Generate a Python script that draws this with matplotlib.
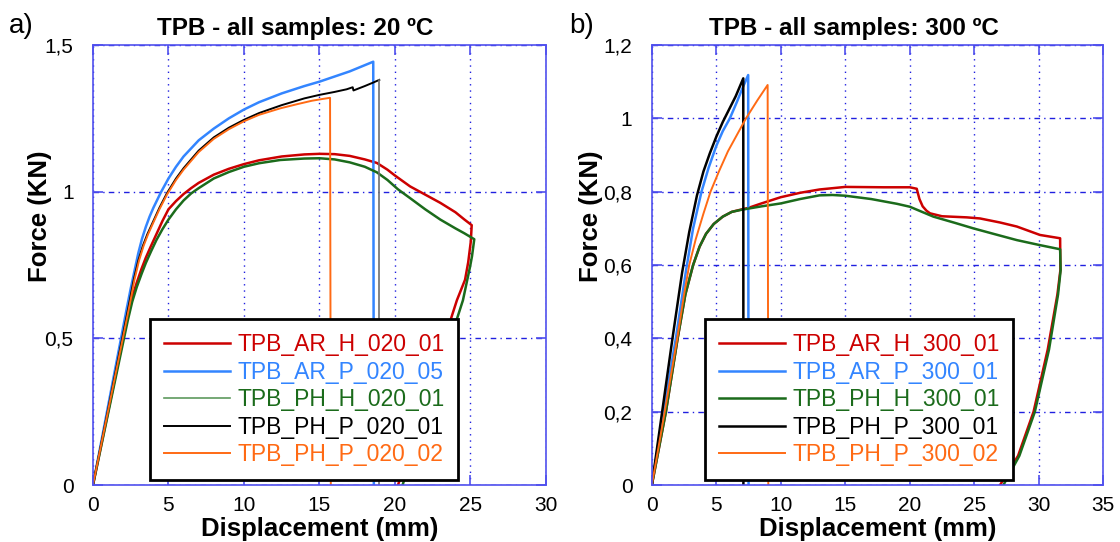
import numpy as np
import matplotlib.pyplot as plt
from matplotlib.ticker import FuncFormatter, MultipleLocator

plt.rcParams['font.family'] = ['Liberation Sans', 'DejaVu Sans']

# Couleurs des essais
c_red = '#cc0000'
c_blue = '#3385ff'
c_green = '#1b6b1b'
c_black = '#000000'
c_orange = '#ff6a14'
c_axes = '#5050ee'
c_grid = '#2020e0'

# ---- 20 ºC ----
labels_20 = ['TPB_AR_H_020_01', 'TPB_AR_P_020_05', 'TPB_PH_H_020_01',
             'TPB_PH_P_020_01', 'TPB_PH_P_020_02']

ar_h_20_x = [0, 2.3, 2.6, 2.9, 3.2, 3.5, 3.8, 4.2, 4.6, 5.0, 5.5, 6.0, 6.5, 7.0, 8.0, 9.0, 10,
             11, 12.5, 14, 15, 16, 17, 18, 18.8, 19.5, 20, 21, 22, 23, 24, 24.6, 25.08,
             25.02, 24.85, 24.64, 24.1, 23.75, 22.0, 20.2]
ar_h_20_y = [0, 0.575, 0.64, 0.69, 0.735, 0.775, 0.81, 0.855, 0.9, 0.94, 0.968, 0.992, 1.012,
             1.03, 1.058, 1.078, 1.094, 1.107, 1.12, 1.127, 1.129, 1.128, 1.122, 1.11, 1.098,
             1.075, 1.055, 1.018, 0.99, 0.962, 0.93, 0.905, 0.886,
             0.83, 0.76, 0.70, 0.63, 0.574, 0.29, 0]

ar_p_20_x = [0, 2.23, 2.5, 2.75, 3.0, 3.25, 3.5, 3.75, 4.0, 4.5, 5.0, 5.5, 6.0, 7.0, 8.0, 9.0,
             10, 11, 12.5, 14, 15, 17, 18.56, 18.6]
ar_p_20_y = [0, 0.60, 0.67, 0.73, 0.79, 0.84, 0.88, 0.915, 0.945, 0.998, 1.045, 1.085, 1.12,
             1.175, 1.215, 1.25, 1.28, 1.305, 1.335, 1.36, 1.375, 1.41, 1.443, 0]

ph_h_20_x = [0, 2.3, 2.6, 2.9, 3.22, 3.5, 3.85, 4.2, 4.6, 5.0, 5.5, 6.0, 6.5, 7.0, 8.0, 9.0,
             10, 11, 12.4, 14, 15, 16, 17, 18, 18.8, 19.5, 20.2, 21, 22, 23, 24, 24.6, 25.25,
             25.1, 24.97, 24.5, 24.15, 22.3, 20.5]
ph_h_20_y = [0, 0.56, 0.625, 0.675, 0.72, 0.757, 0.797, 0.835, 0.872, 0.905, 0.94, 0.97, 0.994,
             1.012, 1.045, 1.067, 1.085, 1.097, 1.108, 1.113, 1.114, 1.11, 1.10, 1.085, 1.066,
             1.04, 1.008, 0.978, 0.94, 0.905, 0.875, 0.858, 0.838,
             0.78, 0.744, 0.63, 0.574, 0.28, 0]

ph_p_20_x = [0, 2.4, 2.7, 3.0, 3.3, 3.6, 4.0, 4.4, 4.9, 5.5, 6.0, 7.0, 8.0, 9.0, 10, 11, 12.5,
             14, 15, 16, 16.8, 17.2, 17.25, 18, 18.56, 18.96, 18.96]
ph_p_20_y = [0, 0.62, 0.70, 0.765, 0.815, 0.855, 0.9, 0.945, 0.995, 1.045, 1.08, 1.14, 1.185,
             1.218, 1.245, 1.268, 1.295, 1.318, 1.33, 1.34, 1.349, 1.356, 1.345, 1.36, 1.372,
             1.381, 0]

ph_p2_20_x = [0, 2.45, 2.75, 3.05, 3.35, 3.65, 4.0, 4.4, 4.9, 5.5, 6.0, 7.0, 8.0, 9.0, 10, 11,
              12.4, 13.5, 14.5, 15.2, 15.7, 15.75]
ph_p2_20_y = [0, 0.62, 0.70, 0.765, 0.815, 0.855, 0.895, 0.94, 0.99, 1.04, 1.075, 1.135, 1.18,
              1.213, 1.24, 1.262, 1.284, 1.298, 1.31, 1.316, 1.32, 0]

# ---- 300 ºC ----
labels_300 = ['TPB_AR_H_300_01', 'TPB_AR_P_300_01', 'TPB_PH_H_300_01',
              'TPB_PH_P_300_01', 'TPB_PH_P_300_02']

ar_h_300_x = [0, 1.09, 2.0, 2.6, 3.2, 3.7, 4.2, 4.8, 5.5, 6.2, 7.0, 7.5, 8.5, 10, 11.5, 13,
              15, 18, 20, 20.54, 20.75, 21.0, 21.3, 21.57, 22.5, 24.42, 25.45, 27, 28.3, 30.1,
              31.66, 31.68, 31.45, 30.7, 29.6, 28.4, 27.0]
ar_h_300_y = [0, 0.2, 0.4, 0.52, 0.6, 0.65, 0.685, 0.712, 0.732, 0.745, 0.752, 0.756, 0.768,
              0.785, 0.797, 0.806, 0.813, 0.812, 0.812, 0.808, 0.78, 0.76, 0.748, 0.741, 0.733,
              0.73, 0.727, 0.716, 0.705, 0.682, 0.673, 0.586, 0.52, 0.37, 0.2, 0.08, 0]

ar_p_300_x = [0, 0.9, 1.86, 2.65, 3.2, 3.85, 4.4, 5.0, 5.5, 6.05, 6.6, 7.0, 7.47, 7.5]
ar_p_300_y = [0, 0.2, 0.4, 0.585, 0.7, 0.8, 0.865, 0.925, 0.965, 1.0, 1.045, 1.08, 1.118, 0]

ph_h_300_x = [0, 1.09, 2.0, 2.6, 3.2, 3.7, 4.2, 4.8, 5.5, 6.2, 7.0, 7.5, 8.5, 10, 11.5, 13,
              14, 15, 17, 19, 20, 21.83, 23.5, 24.93, 26.5, 28.3, 30, 31.66,
              31.7, 31.5, 30.8, 29.7, 28.5, 27.26]
ph_h_300_y = [0, 0.2, 0.4, 0.52, 0.6, 0.65, 0.685, 0.712, 0.732, 0.745, 0.751, 0.754, 0.76,
              0.768, 0.78, 0.79, 0.791, 0.789, 0.78, 0.767, 0.759, 0.732, 0.715, 0.70, 0.685,
              0.668, 0.655, 0.643, 0.586, 0.52, 0.37, 0.2, 0.08, 0]

ph_p_300_x = [0, 0.8, 1.6, 2.35, 2.9, 3.5, 4.0, 4.5, 5.0, 5.5, 6.0, 6.5, 7.09, 7.1]
ph_p_300_y = [0, 0.2, 0.4, 0.58, 0.69, 0.79, 0.855, 0.905, 0.95, 0.99, 1.025, 1.06, 1.109, 0]

ph_p2_300_x = [0, 1.0, 1.97, 2.5, 2.9, 3.4, 4.0, 4.55, 5.2, 5.9, 6.6, 7.3, 8.2, 8.98, 9.03]
ph_p2_300_y = [0, 0.2, 0.4, 0.52, 0.6, 0.67, 0.74, 0.8, 0.855, 0.91, 0.955, 1.0, 1.05, 1.091, 0]


def virgule(v, pos):
    return ('%g' % v).replace('.', ',')


def style_axes(ax, xmax, ymax, ystep, titre, ylab_x):
    ax.set_xlim(0, xmax)
    ax.set_ylim(0, ymax)
    ax.xaxis.set_major_locator(MultipleLocator(5))
    ax.yaxis.set_major_locator(MultipleLocator(ystep))
    ax.yaxis.set_major_formatter(FuncFormatter(virgule))
    for s in ax.spines.values():
        s.set_color(c_axes)
        s.set_linewidth(1.2)
    ax.tick_params(direction='in', length=7, width=1.2, color=c_axes, top=True, right=True,
                   labelsize=15, pad=8)
    ax.tick_params(axis='y', pad=14)
    ax.xaxis.grid(True, ls=(0, (1, 3.5)), color=c_grid, lw=1)
    ax.yaxis.grid(True, ls=(0, (4, 3, 1, 3)), color=c_grid, lw=1)
    ax.set_axisbelow(True)
    ax.text(0.447, 1.011, titre, transform=ax.transAxes, ha='center', va='bottom',
            fontsize=17.5, fontweight='bold')
    ax.set_xlabel('Displacement (mm)', fontsize=18.5, fontweight='bold')
    ax.set_ylabel('Force (KN)', fontsize=18.5, fontweight='bold')
    ax.xaxis.set_label_coords(0.5, -0.072)
    ax.yaxis.set_label_coords(ylab_x, 0.61)


def legende(ax, couleurs, anchor):
    leg = ax.legend(loc='lower left', bbox_to_anchor=anchor, borderaxespad=0, fontsize=16.5,
                    fancybox=False, framealpha=1, edgecolor='black', handlelength=2.9,
                    handletextpad=0.3, labelspacing=0.2, borderpad=0.6)
    leg.get_frame().set_linewidth(2)
    for t, c in zip(leg.get_texts(), couleurs):
        t.set_color(c)
    return leg


fig = plt.figure(figsize=(11.2, 5.42), dpi=100)
ax1 = fig.add_axes([0.083, 0.105, 0.4045, 0.812])
ax2 = fig.add_axes([0.582, 0.105, 0.403, 0.812])

# Graphe a) : 20 ºC
ax1.plot(ar_h_20_x, ar_h_20_y, color=c_red, lw=1.8, label=labels_20[0])
ax1.plot(ar_p_20_x, ar_p_20_y, color=c_blue, lw=1.8, label=labels_20[1])
ax1.plot(ph_h_20_x, ph_h_20_y, color=c_green, lw=1.8, label=labels_20[2])
ax1.plot(ph_p_20_x[:-1], ph_p_20_y[:-1], color=c_black, lw=1.4, label=labels_20[3])
# chute finale (rupture) plus fine, en gris
ax1.plot(ph_p_20_x[-2:], ph_p_20_y[-2:], color='#707070', lw=1.2)
ax1.plot(ph_p2_20_x, ph_p2_20_y, color=c_orange, lw=1.4, label=labels_20[4])
style_axes(ax1, 30, 1.5, 0.5, 'TPB - all samples: 20 ºC', -0.09)
leg1 = legende(ax1, [c_red, c_blue, c_green, c_black, c_orange], (0.126, 0.011))
leg1.get_lines()[2].set_color('#5e9a5e')
leg1.get_lines()[2].set_linewidth(1.2)

# Graphe b) : 300 ºC
ax2.plot(ar_h_300_x, ar_h_300_y, color=c_red, lw=1.8, label=labels_300[0])
ax2.plot(ar_p_300_x, ar_p_300_y, color=c_blue, lw=1.8, label=labels_300[1])
ax2.plot(ph_h_300_x, ph_h_300_y, color=c_green, lw=1.8, label=labels_300[2])
ax2.plot(ph_p_300_x, ph_p_300_y, color=c_black, lw=1.8, label=labels_300[3])
ax2.plot(ph_p2_300_x, ph_p2_300_y, color=c_orange, lw=1.4, label=labels_300[4])
style_axes(ax2, 35, 1.2, 0.2, 'TPB - all samples: 300 ºC', -0.108)
legende(ax2, [c_red, c_blue, c_green, c_black, c_orange], (0.118, 0.011))

fig.text(0.008, 0.952, 'a)', fontsize=20, va='center')
fig.text(0.508, 0.952, 'b)', fontsize=20, va='center')

fig.savefig('out.png', dpi=100)
